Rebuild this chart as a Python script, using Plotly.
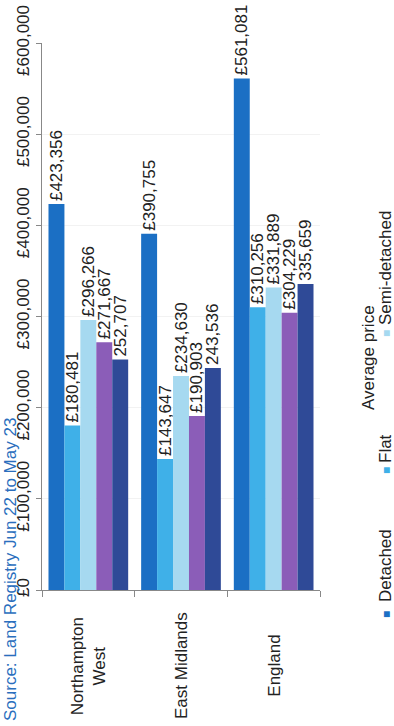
import plotly.graph_objects as go

categories = ["Northampton West", "East Midlands", "England"]
series_names = ["Detached", "Flat", "Semi-detached", "Terraced", "All"]
detached = [423356, 390755, 561081]
flat = [180481, 143647, 310256]
semi = [296266, 234630, 331889]
terraced = [271667, 190903, 304229]
all_types = [252707, 243536, 335659]
colors = ["#1b6fc4", "#3fb0e8", "#a6d9f0", "#8b5db8", "#2f4a97"]
y_ticks = [0, 100000, 200000, 300000, 400000, 500000, 600000]
y_tick_labels = ["£0", "£100,000", "£200,000", "£300,000", "£400,000", "£500,000", "£600,000"]
legend_title = "Average price"
source_text = "Source: Land Registry Jun 22 to May 23"

W, H = 394, 726
L, R, T, B = 42, 74, 43, 136
FONT = "Liberation Sans, Arial, sans-serif"

fig = go.Figure()
all_values = [detached, flat, semi, terraced, all_types]
for i, (name, vals) in enumerate(zip(series_names, all_values)):
    prefix = "" if name == "All" else "£"
    fig.add_trace(go.Bar(
        x=categories, y=vals, name=name,
        marker=dict(color=colors[i], line=dict(width=0)),
        text=[prefix + f"{v:,}" for v in vals],
        textposition="outside", textangle=-90,
        constraintext="none", cliponaxis=False,
        textfont=dict(family=FONT, size=17, color="#222222"),
        showlegend=False,
    ))

pw = W - L - R
ph = H - T - B
def px_x(px):
    return (px - L) / pw
def px_y(py):
    return (H - B - py) / ph

annotations = []
cat_text = {"Northampton West": "Northampton<br>West"}
for c in categories:
    annotations.append(dict(
        x=c, xref="x", y=px_y(666), yref="paper",
        text=cat_text.get(c, c), showarrow=False, textangle=-90,
        xanchor="center", yanchor="middle",
        font=dict(family=FONT, size=17, color="#222222"),
    ))
annotations.append(dict(
    x=px_x(368), xref="paper", y=px_y(358), yref="paper",
    text=legend_title, showarrow=False, textangle=-90,
    xanchor="center", yanchor="middle",
    font=dict(family=FONT, size=17, color="#222222"),
))
# legend items: (marker center y, text center y)
legend_pos = [(614, 566), (470, 449), (333, 268)]
for i, (my, ty) in enumerate(legend_pos):
    annotations.append(dict(
        x=px_x(386), xref="paper", y=px_y(my), yref="paper",
        text="■", showarrow=False,
        xanchor="center", yanchor="middle",
        font=dict(family=FONT, size=12, color=colors[i]),
    ))
    annotations.append(dict(
        x=px_x(385), xref="paper", y=px_y(ty), yref="paper",
        text=series_names[i], showarrow=False, textangle=-90,
        xanchor="center", yanchor="middle",
        font=dict(family=FONT, size=17, color="#222222"),
    ))
annotations.append(dict(
    x=px_x(10), xref="paper", y=px_y(570), yref="paper",
    text=source_text, showarrow=False, textangle=-90,
    xanchor="center", yanchor="middle",
    font=dict(family=FONT, size=17, color="#2a6ebd"),
))

fig.update_layout(
    width=W, height=H,
    margin=dict(l=L, r=R, t=T, b=B, pad=0, autoexpand=False),
    paper_bgcolor="white", plot_bgcolor="white",
    barmode="group", bargap=0.14, bargroupgap=0,
    font=dict(family=FONT, size=17, color="#222222"),
    xaxis=dict(
        showticklabels=False, showline=True, linecolor="#888888", linewidth=1,
        ticks="outside", tickson="boundaries", ticklen=6, tickcolor="#888888",
        showgrid=False, fixedrange=True, automargin=False,
    ),
    yaxis=dict(
        range=[0, 600000], tickvals=y_ticks, ticktext=y_tick_labels,
        tickangle=-90, showline=True, linecolor="#888888", linewidth=1,
        ticks="outside", ticklen=5, tickcolor="#888888",
        showgrid=True, gridcolor="#f2f2f2", zeroline=False, automargin=False,
        tickfont=dict(family=FONT, size=17, color="#222222"),
    ),
    annotations=annotations,
)

fig.write_html("out.html", config={"displayModeBar": False},
               post_script="document.body.style.margin='0px';")
